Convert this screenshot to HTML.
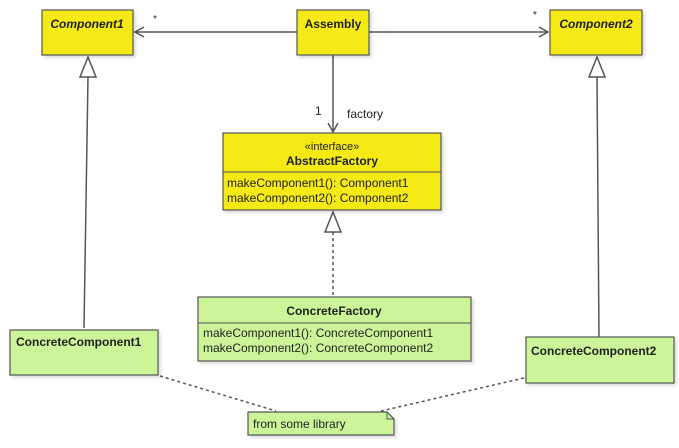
<!DOCTYPE html>
<html><head><style>
body{margin:0;background:#fff;}
svg text{font-family:"Liberation Sans",sans-serif;fill:#222;}
</style></head><body>
<svg width="679" height="443" xmlns="http://www.w3.org/2000/svg">
<defs><filter id="s" x="-10%" y="-10%" width="130%" height="130%"><feDropShadow dx="2" dy="2" stdDeviation="1.5" flood-color="#000" flood-opacity="0.15"/></filter></defs>
<g stroke="#555" stroke-width="1.5" fill="none">
<line x1="297" y1="32" x2="135" y2="32"/><polyline points="144,27 135,32 144,37"/>
<line x1="369" y1="32" x2="548" y2="32"/><polyline points="539,27 548,32 539,37"/>
<line x1="333" y1="55" x2="333" y2="132"/><polyline points="328,123 333,132 338,123"/>
<line x1="88" y1="77" x2="84" y2="328"/>
<polygon points="88,57 80,77 96,77" fill="#fff"/>
<line x1="597" y1="77" x2="599" y2="338"/>
<polygon points="597,57 589,77 605,77" fill="#fff"/>
<line x1="333" y1="232" x2="333" y2="297" stroke-dasharray="3,3"/>
<polygon points="333,212 325,232 341,232" fill="#fff"/>
<line x1="160" y1="376" x2="276" y2="411" stroke-dasharray="3,3"/>
<line x1="524" y1="378" x2="381" y2="411" stroke-dasharray="3,3"/>
</g>
<g stroke="#555" stroke-width="1.2" filter="url(#s)">
<rect x="42" y="10" width="91" height="45" fill="#f5ea14"/>
<rect x="297" y="10" width="72" height="45" fill="#f5ea14"/>
<rect x="550" y="10" width="92" height="45" fill="#f5ea14"/>
<rect x="223" y="133" width="218" height="77" fill="#f5ea14"/>
<rect x="10" y="330" width="148" height="45" fill="#ccf59a"/>
<rect x="198" y="297" width="273" height="64" fill="#ccf59a"/>
<rect x="526" y="337" width="148" height="46" fill="#ccf59a"/>
<polygon points="248,412 387,412 394,419 394,435 248,435" fill="#ccf59a"/>
</g>
<g stroke="#555" stroke-width="1" fill="none">
<line x1="223" y1="172" x2="441" y2="172"/>
<line x1="198" y1="323" x2="471" y2="323"/>
<polyline points="387,412 387,419 394,419"/>
</g>
<g font-size="12">
<text x="87" y="28" text-anchor="middle" font-weight="bold" font-style="italic">Component1</text>
<text x="333" y="28" text-anchor="middle" font-weight="bold">Assembly</text>
<text x="596" y="28" text-anchor="middle" font-weight="bold" font-style="italic">Component2</text>
<text x="153" y="22" font-size="10">*</text>
<text x="533" y="18" font-size="10">*</text>
<text x="315" y="115">1</text>
<text x="347" y="118">factory</text>
<text x="332" y="150" text-anchor="middle" font-size="11">«interface»</text>
<text x="332" y="165" text-anchor="middle" font-weight="bold">AbstractFactory</text>
<text x="227" y="187">makeComponent1(): Component1</text>
<text x="227" y="202">makeComponent2(): Component2</text>
<text x="334" y="315" text-anchor="middle" font-weight="bold">ConcreteFactory</text>
<text x="203" y="337">makeComponent1(): ConcreteComponent1</text>
<text x="203" y="352">makeComponent2(): ConcreteComponent2</text>
<text x="16" y="346" font-weight="bold">ConcreteComponent1</text>
<text x="531" y="355" font-weight="bold">ConcreteComponent2</text>
<text x="253" y="428">from some library</text>
</g>
</svg>
</body></html>
